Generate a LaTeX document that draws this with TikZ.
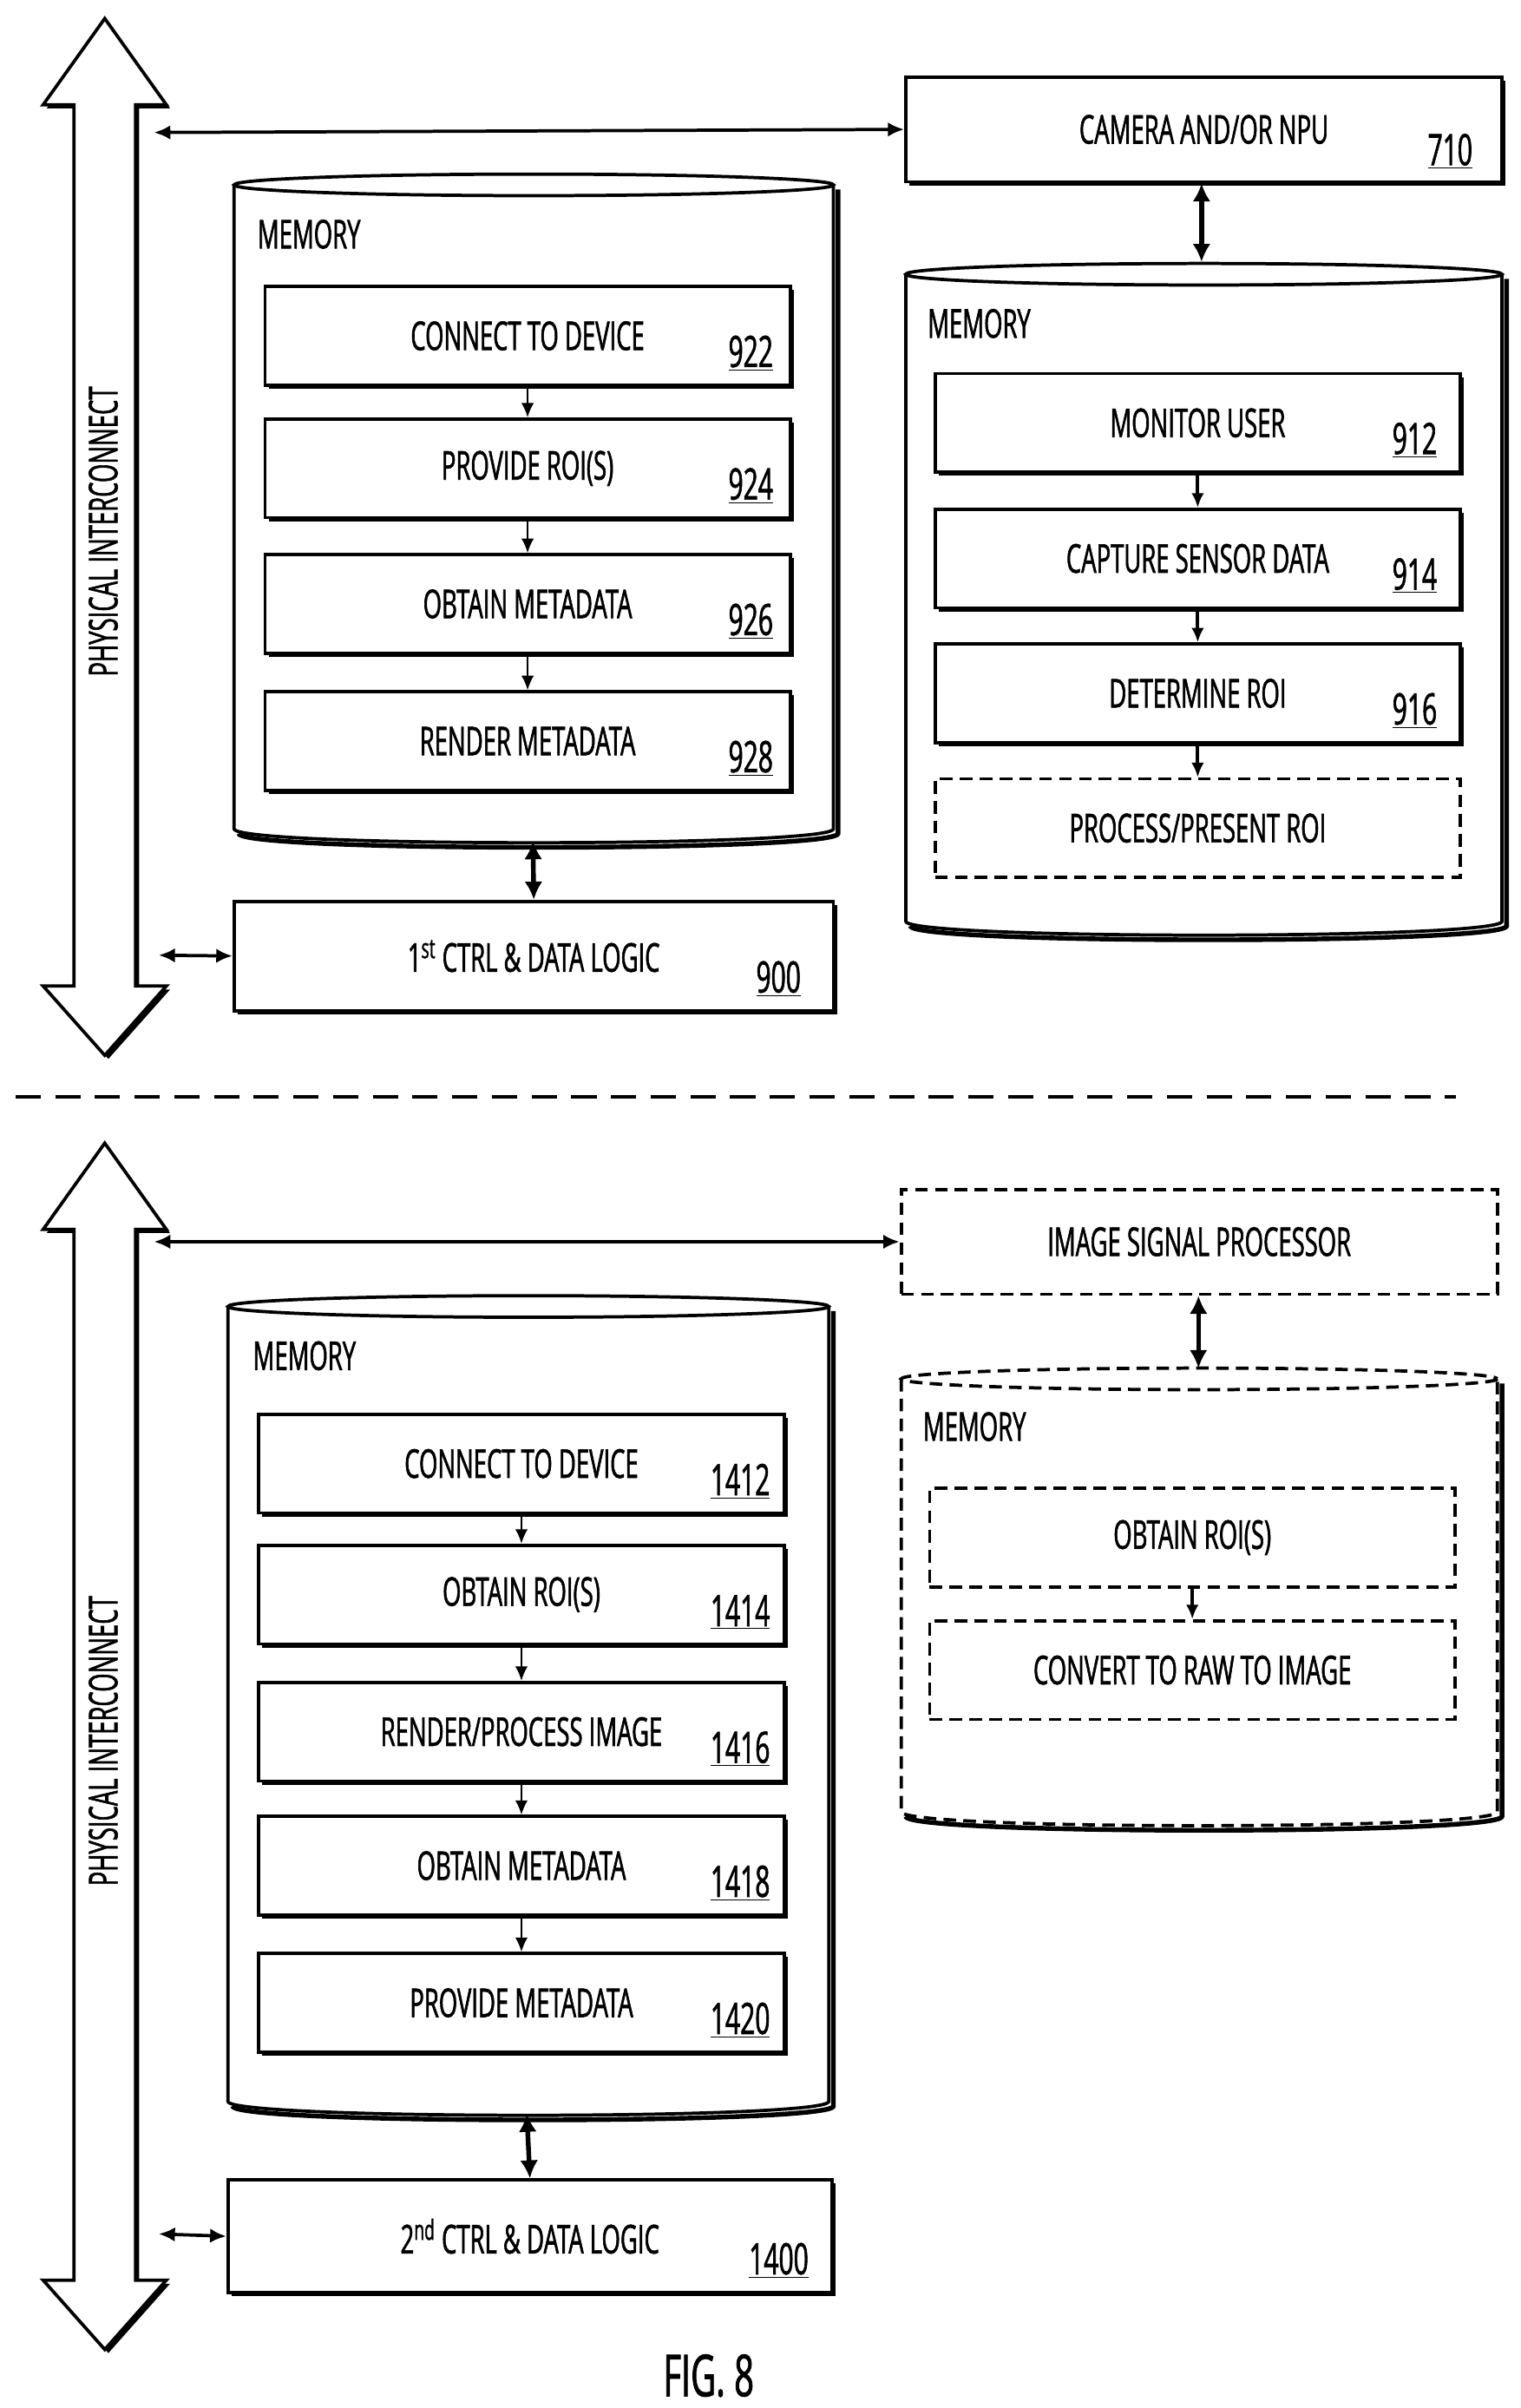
\documentclass[tikz,border=0pt]{standalone}
\usepackage{fontspec}
\setmainfont{Open Sans}[FakeStretch=0.6, FakeBold=1.3]
\usetikzlibrary{arrows.meta,shadows,positioning}
\newcommand\lbl{\fontsize{22}{24}\selectfont}
% memory drum: x1, x2, ytop, ybottom, options
\newcommand\drum[5]{%
  \draw[line width=2.6pt, shift={(3,3)}] (#2,#3) -- (#2,#4) .. controls (#2,#4+12) and (#1,#4+12) .. (#1,#4);
  \draw[line width=1.8pt, fill=white, #5] (#1,#3) -- (#1,#4) .. controls (#1,#4+12) and (#2,#4+12) .. (#2,#4) -- (#2,#3);
  \draw[line width=1.8pt, fill=white, #5] ({(#1+#2)/2},#3) ellipse [x radius={(#2-#1)/2}, y radius=7];
}
\tikzset{
  box/.style={draw, line width=1.8pt, fill=white,
    drop shadow={shadow xshift=0.07cm, shadow yshift=-0.07cm, opacity=1, fill=black},
    minimum width=341*0.03cm, minimum height=64*0.03cm, font=\lbl, inner sep=0pt},
  dbox/.style={draw, line width=1.8pt, fill=white, dash pattern=on 7pt off 4pt,
    minimum width=341*0.03cm, minimum height=64*0.03cm, font=\lbl, inner sep=0pt},
  num/.style={font=\fontsize{24}{26}\selectfont, anchor=south east, inner sep=0pt},
  plain/.style={font=\lbl, inner sep=0pt},
  flow/.style={line width=1pt, -{Latex[length=8pt,width=7pt]}},
  link/.style={line width=2.6pt, {Latex[length=10pt,width=10pt]}-{Latex[length=10pt,width=10pt]}},
  wire/.style={line width=1.8pt, {Latex[length=9pt,width=8pt]}-{Latex[length=9pt,width=8pt]}},
  bus/.style={line width=1.8pt, fill=white,
    drop shadow={shadow xshift=0.07cm, shadow yshift=-0.07cm, opacity=1, fill=black}}
}
\begin{document}
\begin{tikzpicture}[x=0.03cm, y=-0.03cm]
\useasboundingbox (0,0) rectangle (987,1563);

% upper half
\draw[bus] (68,12) -- (108,68) -- (88,68) -- (88,640) -- (108,640) -- (68,685)
  -- (28,640) -- (48,640) -- (48,68) -- (28,68) -- cycle;
\node[plain, rotate=90] at (67,345) {PHYSICAL INTERCONNECT};
\coordinate (busA) at (100,86);
\coordinate (busB) at (103,620);

\node[box, minimum width=387*0.03cm, minimum height=68*0.03cm] (cam) at (781.5,84) {CAMERA AND/OR NPU};
\node[num] at ([shift={(-20,-9)}]cam.south east) {\underline{710}};
\draw[wire] (busA) -- (cam.west);

\drum{152}{541}{120}{538}{}
\coordinate (lmemB) at (346,546);
\node[plain, anchor=west] at (167,152) {MEMORY};
\node[box] (b922) at (342.5,218) {CONNECT TO DEVICE};
\node[box] (b924) at (342.5,304) {PROVIDE ROI(S)};
\node[box] (b926) at (342.5,392) {OBTAIN METADATA};
\node[box] (b928) at (342.5,481) {RENDER METADATA};
\foreach \n in {922,924,926,928}
  \node[num] at ([shift={(-12,-10)}]b\n.south east) {\underline{\n}};
\draw[flow] (b922) -- (b924);
\draw[flow] (b924) -- (b926);
\draw[flow] (b926) -- (b928);

\node[box, minimum width=389*0.03cm, minimum height=71*0.03cm] (ctl1) at (346.5,620.5) {1\textsuperscript{st} CTRL \& DATA LOGIC};
\node[num] at ([shift={(-22,-10)}]ctl1.south east) {\underline{900}};
\draw[link] (lmemB) -- (ctl1.north);
\draw[wire] (busB) -- (ctl1.west);

\drum{588}{975}{178}{598}{}
\coordinate (rmemT) at (780,170);
\node[plain, anchor=west] at (602,210) {MEMORY};
\node[box] (b912) at (777.5,274.5) {MONITOR USER};
\node[box] (b914) at (777.5,362.5) {CAPTURE SENSOR DATA};
\node[box] (b916) at (777.5,450) {DETERMINE ROI};
\node[dbox] (pres) at (777.5,537.5) {PROCESS/PRESENT ROI};
\foreach \n in {912,914,916}
  \node[num] at ([shift={(-16,-10)}]b\n.south east) {\underline{\n}};
\draw[link] (cam.south -| rmemT) -- (rmemT);
\draw[flow, line width=2pt] (b912) -- (b914);
\draw[flow, line width=2pt] (b914) -- (b916);
\draw[flow, line width=2pt] (b916) -- (pres);

% divider
\draw[line width=2pt, dash pattern=on 14pt off 8pt] (10,712) -- (945,712);

% lower half
\draw[bus] (68,742) -- (108,798) -- (88,798) -- (88,1480) -- (108,1480) -- (68,1525)
  -- (28,1480) -- (48,1480) -- (48,798) -- (28,798) -- cycle;
\node[plain, rotate=90] at (67,1130) {PHYSICAL INTERCONNECT};
\coordinate (busC) at (100,806);
\coordinate (busD) at (103,1450);

\node[dbox, minimum width=387*0.03cm, minimum height=68*0.03cm] (isp) at (778.5,806) {IMAGE SIGNAL PROCESSOR};
\draw[wire] (busC) -- (isp.west);

\drum{585}{972}{895}{1176}{dash pattern=on 7pt off 4pt}
\coordinate (ispmT) at (778,888);
\node[plain, anchor=west] at (599,926) {MEMORY};
\node[dbox] (roi2) at (774,998) {OBTAIN ROI(S)};
\node[dbox] (raw) at (774,1084) {CONVERT TO RAW TO IMAGE};
\draw[link] (isp.south -| ispmT) -- (ispmT);
\draw[flow, line width=2pt] (roi2) -- (raw);

\drum{148}{538}{848}{1364}{}
\coordinate (lmemD) at (342,1372);
\node[plain, anchor=west] at (164,880) {MEMORY};
\node[box] (b1412) at (338.5,950) {CONNECT TO DEVICE};
\node[box] (b1414) at (338.5,1035) {OBTAIN ROI(S)};
\node[box] (b1416) at (338.5,1124) {RENDER/PROCESS IMAGE};
\node[box] (b1418) at (338.5,1211) {OBTAIN METADATA};
\node[box] (b1420) at (338.5,1300) {PROVIDE METADATA};
\foreach \n in {1412,1414,1416,1418,1420}
  \node[num] at ([shift={(-10,-10)}]b\n.south east) {\underline{\n}};
\draw[flow] (b1412) -- (b1414);
\draw[flow] (b1414) -- (b1416);
\draw[flow] (b1416) -- (b1418);
\draw[flow] (b1418) -- (b1420);

\node[box, minimum width=392*0.03cm, minimum height=73*0.03cm] (ctl2) at (344,1451.5) {2\textsuperscript{nd} CTRL \& DATA LOGIC};
\node[num] at ([shift={(-16,-10)}]ctl2.south east) {\underline{1400}};
\draw[link] (lmemD) -- (ctl2.north);
\draw[wire] (busD) -- (ctl2.west);

\node[plain, font=\fontsize{32}{34}\selectfont] (fig) at (460,1542) {FIG. 8};
\end{tikzpicture}
\end{document}
